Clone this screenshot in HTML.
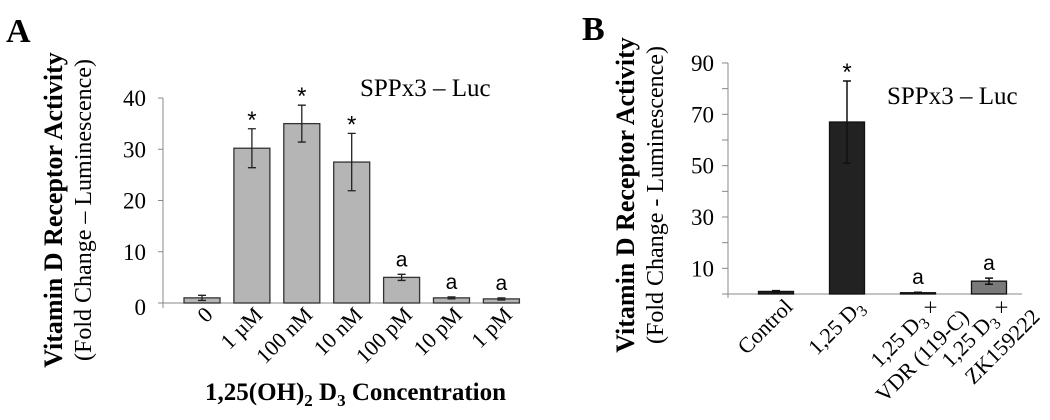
<!DOCTYPE html>
<html><head><meta charset="utf-8">
<style>
html,body{margin:0;padding:0;background:#fff;}
svg{display:block;font-family:"Liberation Serif",serif;}
</style></head>
<body>
<svg id="fig" width="1050" height="420" viewBox="0 0 1050 420">
</svg>
<script>
// Panel A data
const catsA = ["0","1 µM","100 nM","10 nM","100 pM","10 pM","1 pM"];
const valsA = [1, 30.2, 35, 27.5, 5, 1, 0.8];
const errsA = [0.5, 3.8, 3.6, 5.6, 0.6, 0.2, 0.2];
const marksA = ["", "*", "*", "*", "a", "a", "a"];
const ticksA = [0, 10, 20, 30, 40];
// Panel B data
const catsB = [["Control"],["1,25 D|3"],["1,25 D|3| ×","VDR (119-C)"],["1,25 D|3| ×","ZK159222"]];
const valsB = [1, 67, 0.5, 5];
const errsB = [0.3, 16, 0.2, 1.2];
const marksB = ["", "*", "a", "a"];
const ticksB = [10, 30, 50, 70, 90];
const minorB = [20, 40, 60, 80];

const NS = "http://www.w3.org/2000/svg";
const svg = document.getElementById("fig");
function el(tag, attrs, parent, text){
  const e = document.createElementNS(NS, tag);
  for (const k in attrs) e.setAttribute(k, attrs[k]);
  if (text !== undefined) e.textContent = text;
  (parent||svg).appendChild(e);
  return e;
}

// ---------- Panel A ----------
const yA = v => 303 - v * 5.125;
const xA = i => 202 + i * 49.9;
const gA = el("g", {});


let t = el("text", {x:6, y:42, "font-size":34, "font-weight":"bold"}, gA, "A");


let yt = el("text", {transform:"translate(62,210) rotate(-90)", "text-anchor":"middle", "font-size":26, "font-weight":"bold"}, gA, "Vitamin D Receptor Activity");


let yt2 = el("text", {transform:"translate(91,210) rotate(-90)", "text-anchor":"middle", "font-size":24}, gA, "(Fold Change – Luminescence)");


let ax = el("line", {x1:163, y1:yA(40), x2:163, y2:308, stroke:"#888", "stroke-width":1}, gA);


let bx = el("line", {x1:158, y1:yA(0), x2:520, y2:yA(0), stroke:"#888", "stroke-width":1}, gA);


ticksA.forEach(v => {
  const tk = el("line", {x1:158, x2:163, y1:yA(v), y2:yA(v), stroke:"#888"}, gA);
  
  
  const tl = el("text", {x:146, y:yA(v)+8 + (v===0?4:0), "text-anchor":"end", "font-size":23}, gA, String(v));
  
  
});
catsA.forEach((c, i) => {
  const cx = xA(i), w = 36;
  const r = el("rect", {x:cx-w/2, y:yA(valsA[i]), width:w, height:yA(0)-yA(valsA[i]), fill:"#b5b5b5", stroke:"#333", "stroke-width":1.3}, gA);
  
  
  const top = yA(valsA[i] + errsA[i]), bot = yA(valsA[i] - errsA[i]);
  const eb = el("path", {d:`M${cx},${top}V${bot}M${cx-4},${top}H${cx+4}M${cx-4},${bot}H${cx+4}`, stroke:"#222", "stroke-width":1.3, fill:"none"}, gA);
  
  
  if (marksA[i]) {
    const m = el("text", {x:cx, y:top - (marksA[i]==="*"?1:8), "text-anchor":"middle", "font-size":marksA[i]==="*"?24:21, "font-family":"Liberation Sans, sans-serif"}, gA, marksA[i]);
    
    
  }
  const lb = el("text", {transform:`translate(${cx+12},${316}) rotate(-45)`, "text-anchor":"end", "font-size":22}, gA, c);
  
  
});
let lgA = el("text", {x:360, y:96, "font-size":25}, gA, "SPPx3 – Luc");


let xtA = el("text", {x:205, y:400, "font-size":25, "font-weight":"bold"}, gA);


xtA.innerHTML = '1,25(OH)<tspan dy="6" font-size="17">2</tspan><tspan dy="-6"> D</tspan><tspan dy="6" font-size="17">3</tspan><tspan dy="-6"> Concentration</tspan>';

// ---------- Panel B ----------
const yB = v => 294 - v * 2.567;
const xB = i => 776 + i * 71;
const gB = el("g", {});


let tb = el("text", {x:582, y:40, "font-size":34, "font-weight":"bold"}, gB, "B");


let ytb = el("text", {transform:"translate(634,195) rotate(-90)", "text-anchor":"middle", "font-size":26, "font-weight":"bold"}, gB, "Vitamin D Receptor Activity");


let ytb2 = el("text", {transform:"translate(663,195) rotate(-90)", "text-anchor":"middle", "font-size":24}, gB, "(Fold Change - Luminescence)");


let axb = el("line", {x1:728, y1:yB(90), x2:728, y2:298, stroke:"#888"}, gB);


let bxb = el("line", {x1:722, y1:yB(0), x2:1022, y2:yB(0), stroke:"#888"}, gB);


ticksB.concat(minorB).forEach(v => {
  const tk = el("line", {x1:722, x2:728, y1:yB(v), y2:yB(v), stroke:"#888"}, gB);
  
  
});
ticksB.forEach(v => {
  const tl = el("text", {x:714, y:yB(v)+8, "text-anchor":"end", "font-size":23}, gB, String(v));
  
  
});
const colorsB = ["#222", "#222", "#222", "#7a7a7a"];
catsB.forEach((lines, i) => {
  const cx = xB(i), w = 35;
  const r = el("rect", {x:cx-w/2, y:yB(valsB[i]), width:w, height:yB(0)-yB(valsB[i]), fill:colorsB[i], stroke:"#111", "stroke-width":1.3}, gB);
  
  
  const top = yB(valsB[i] + errsB[i]), bot = yB(valsB[i] - errsB[i]);
  const eb = el("path", {d:`M${cx},${top}V${bot}M${cx-4},${top}H${cx+4}M${cx-4},${bot}H${cx+4}`, stroke:"#111", "stroke-width":1.5, fill:"none"}, gB);
  
  
  if (marksB[i]) {
    const m = el("text", {x:cx, y:top - (marksB[i]==="*"?1:8), "text-anchor":"middle", "font-size":marksB[i]==="*"?24:21, "font-family":"Liberation Sans, sans-serif"}, gB, marksB[i]);
    
    
  }
  lines.forEach((ln, j) => {
    const base = lines.length > 1 ? 22 : 18;
    const lb = el("text", {transform:`translate(${cx+base + j*30},${308 + j*10}) rotate(-45)`, "text-anchor":"end", "font-size":22}, gB);
    
    
    const parts = ln.split("|");
    parts.forEach((p, k) => {
      const ts = document.createElementNS(NS, "tspan");
      ts.textContent = p;
      if (k === 1) { ts.setAttribute("font-size", "16"); ts.setAttribute("dy", "5"); }
      if (k === 2) { ts.setAttribute("dy", "-5"); }
      lb.appendChild(ts);
    });
  });
});
let lgB = el("text", {x:887, y:104, "font-size":25}, gB, "SPPx3 – Luc");


</script>
</body></html>
